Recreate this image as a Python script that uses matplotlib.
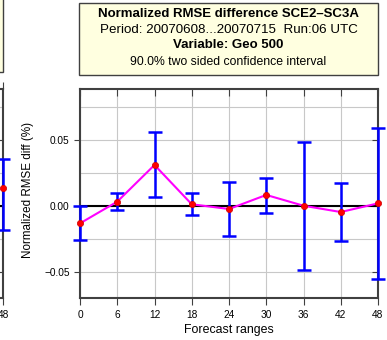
import matplotlib
matplotlib.use("Agg")
import matplotlib.pyplot as plt
from matplotlib.patches import Rectangle

plt.rcParams['font.family'] = ['Liberation Sans', 'DejaVu Sans']

# forecast ranges and normalized RMSE differences (SCE2 - SC3A)
ranges = [0, 6, 12, 18, 24, 30, 36, 42, 48]
diff = [-0.0132, 0.0033, 0.0312, 0.0013, -0.0023, 0.0084, 0.0002, -0.0046, 0.0020]
ci_upper = [0.0000, 0.0097, 0.0560, 0.0097, 0.0185, 0.0216, 0.0487, 0.0173, 0.0590]
ci_lower = [-0.0260, -0.0030, 0.0071, -0.0071, -0.0228, -0.0051, -0.0487, -0.0264, -0.0556]
yticks = [-0.05, 0.00, 0.05]
yticklabels = ['\u22120.05', '0.00', '0.05']

# neighbouring panel (only its last point is visible)
left_range = [48]
left_diff = [0.014]
left_upper = [0.036]
left_lower = [-0.018]

W, H = 387, 340
fig = plt.figure(figsize=(W / 100, H / 100), dpi=100)


def fx(px):
    return px / W


def fy(py):
    return 1 - py / H


spine_col = '#404040'
grid_col = '#c8c8c8'


def style_axes(ax):
    ax.set_xlim(0, 48)
    ax.set_ylim(-0.070, 0.089)
    ax.set_xticks(ranges)
    ax.set_yticks(yticks)
    ax.set_yticks([-0.05, -0.025, 0.0, 0.025, 0.05, 0.075], minor=True)
    ax.grid(True, which='both', axis='y', color=grid_col, lw=0.8)
    ax.grid(True, which='major', axis='x', color=grid_col, lw=0.8)
    ax.set_axisbelow(True)
    for s in ax.spines.values():
        s.set_color(spine_col)
        s.set_linewidth(1.5)
    ax.tick_params(which='minor', length=0)
    ax.tick_params(axis='x', which='major', direction='out', length=5, width=0.8,
                   color=spine_col, labelsize=7.3, pad=3.5, top=True)
    ax.tick_params(axis='y', which='major', direction='out', length=4, width=0.8,
                   color=spine_col, labelsize=7.3, right=True)


def draw(ax, x, m, lo, hi):
    err = [[a - b for a, b in zip(m, lo)], [b - a for a, b in zip(m, hi)]]
    ax.errorbar(x, m, yerr=err, fmt='none', ecolor='#0000ff', elinewidth=1.8,
                capsize=5, capthick=1.8, clip_on=False, zorder=3)
    ax.plot(x, m, color='#ff00ff', lw=1.5, zorder=4, clip_on=False)
    ax.plot(x, m, 'o', ms=4.5, mfc='#ff0000', mec='#cc0000', mew=0.5,
            zorder=5, clip_on=False)


# left (cut off) panel
axl = fig.add_axes([fx(-295), fy(298), fx(298), fy(89) - fy(298)])
style_axes(axl)
axl.axhline(0, color='black', lw=1.5, zorder=2)
axl.set_yticklabels([])
axl.set_xticklabels([''] * (len(ranges) - 1) + ['48'])
axl.tick_params(axis='y', which='major', direction='in', right=True)
draw(axl, left_range, left_diff, left_lower, left_upper)

# main panel
ax = fig.add_axes([fx(80), fy(298), fx(378) - fx(80), fy(89) - fy(298)])
style_axes(ax)
ax.axhline(0, color='black', lw=1.5, zorder=2)
ax.set_yticklabels(yticklabels)
for t in ax.get_xticklines()[1::2]:
    t.set_marker(3)
for t in ax.get_yticklines()[1::2]:
    t.set_marker(0)
draw(ax, ranges, diff, ci_lower, ci_upper)
ax.set_xlabel('Forecast ranges', fontsize=8.9, labelpad=3)
fig.text(fx(28), fy(190), 'Normalized RMSE diff (%)', rotation=90,
         ha='center', va='center', fontsize=8.4)

# header boxes
box_face = '#ffffe0'
fig.patches.append(Rectangle((fx(-100), fy(72)), fx(103), fy(-5) - fy(72),
                             transform=fig.transFigure, facecolor=box_face,
                             edgecolor=spine_col, lw=1.0))
fig.patches.append(Rectangle((fx(79), fy(75)), fx(299), fy(3) - fy(75),
                             transform=fig.transFigure, facecolor=box_face,
                             edgecolor=spine_col, lw=1.0))
cx = fx(228.5)
fig.text(cx, fy(14), 'Normalized RMSE difference SCE2\u2013SC3A', ha='center',
         va='center', fontsize=9.5, fontweight='bold')
fig.text(cx, fy(30), 'Period: 20070608...20070715  Run:06 UTC', ha='center',
         va='center', fontsize=9.6)
fig.text(cx, fy(45), 'Variable: Geo 500', ha='center', va='center',
         fontsize=9.5, fontweight='bold')
fig.text(cx, fy(62), '90.0% two sided confidence interval', ha='center',
         va='center', fontsize=8.8)

fig.savefig('out.png', dpi=100)
